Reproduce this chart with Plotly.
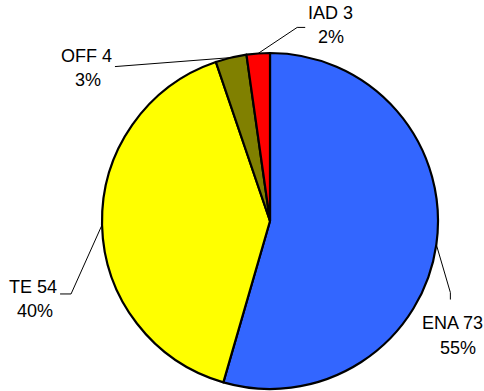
import math
import plotly.graph_objects as go

labels = ["ENA", "TE", "OFF", "IAD"]
values = [73, 54, 4, 3]
percents = [55, 40, 3, 2]
colors = ["#3366FF", "#FFFF00", "#808000", "#FF0000"]

W, H = 484, 391
CX, CY, R = 270, 221, 168

# label line centers (pixels): (x1, y1) for "name value", (x2, y2) for percent
label_pos = {
    "ENA": (452, 323, 458, 348),
    "TE": (33, 287, 35, 311),
    "OFF": (86, 56, 88, 80),
    "IAD": (330, 13, 331, 37),
}
# leader-line bends relative to the point on the pie edge
leader = {
    "ENA": [(14, 48), (14, 55)],
    "TE": [(-31, 69), (-42, 69)],
    "OFF": [(-116, 9)],
    "IAD": [(39, -26), (47, -26)],
}
FONT = dict(family="Liberation Sans, Arial", size=18, color="black")


def px(x, y):
    return x / W, 1 - y / H


total = sum(values)
fig = go.Figure(go.Pie(
    labels=labels, values=values, sort=False, direction="clockwise", rotation=0,
    marker=dict(colors=colors, line=dict(color="black", width=2.2)),
    textinfo="none", hoverinfo="label+value+percent", showlegend=False,
    domain=dict(x=[(CX - R) / W, (CX + R) / W], y=[1 - (CY + R) / H, 1 - (CY - R) / H]),
))

shapes, annotations = [], []
start = 0.0
for lab, v, pct in zip(labels, values, percents):
    mid = (start + v / 2) / total * 2 * math.pi
    start += v
    ex, ey = CX + R * math.sin(mid), CY - R * math.cos(mid)
    pts = [(ex, ey)] + [(ex + dx, ey + dy) for dx, dy in leader[lab]]
    path = "M " + " L ".join("%.4f,%.4f" % px(x, y) for x, y in pts)
    shapes.append(dict(type="path", path=path, xref="paper", yref="paper",
                       line=dict(color="black", width=1)))
    x1, y1, x2, y2 = label_pos[lab]
    for tx, ty, txt in [(x1, y1, f"{lab} {v}"), (x2, y2, f"{pct}%")]:
        annotations.append(dict(
            x=tx / W, y=1 - ty / H, xref="paper", yref="paper", showarrow=False,
            xanchor="center", yanchor="middle", text=txt, font=FONT,
        ))

fig.update_layout(
    width=W, height=H, margin=dict(l=0, r=0, t=0, b=0),
    paper_bgcolor="white", plot_bgcolor="white",
    shapes=shapes, annotations=annotations,
)
fig.write_html("out.html", config={"displayModeBar": False},
               post_script="document.body.style.margin='0';")
